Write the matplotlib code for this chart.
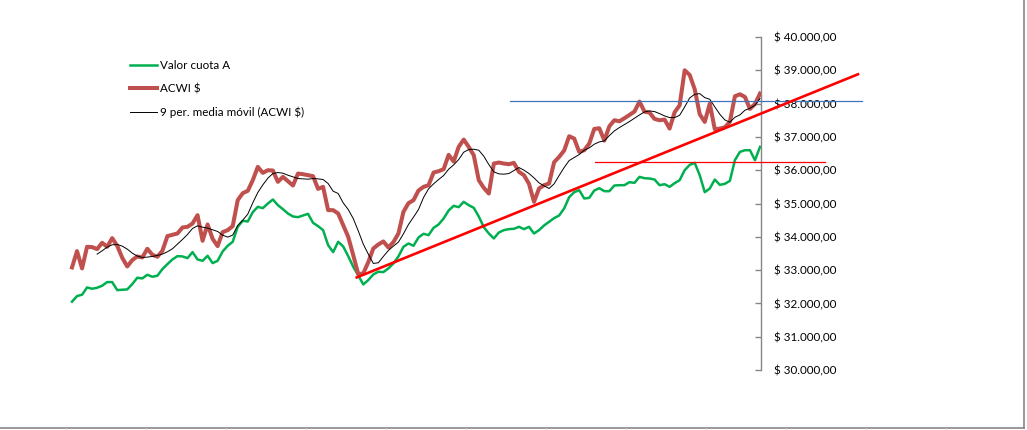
import numpy as np
import matplotlib
matplotlib.use("Agg")
import matplotlib.pyplot as plt
from matplotlib.lines import Line2D
from matplotlib.ticker import FuncFormatter

# Series (one value per period, equally spaced)
valor_cuota_a = [
    32050, 32220, 32260, 32480, 32440, 32470, 32530, 32640, 32640, 32400,
    32410, 32420, 32580, 32770, 32750, 32860, 32800, 32830, 33030, 33180,
    33320, 33420, 33410, 33360, 33540, 33320, 33280, 33430, 33210, 33280,
    33560, 33730, 33850, 34300, 34480, 34460, 34740, 34900, 34860, 35000,
    35120, 34950, 34830, 34700, 34610, 34590, 34640, 34690, 34420, 34320,
    34200, 33750, 33540, 33850, 33710, 33420, 33100, 32840, 32570, 32700,
    32870, 32950, 32940, 33050, 33200, 33410, 33700, 33800, 33730, 33980,
    34090, 34050, 34270, 34370, 34550, 34790, 34930, 34890, 35050, 34950,
    34870, 34610, 34290, 34100, 33950, 34130, 34200, 34230, 34240, 34300,
    34230, 34300, 34100, 34200, 34340, 34450, 34560, 34640, 34850, 35190,
    35340, 35400, 35150, 35170, 35390, 35460, 35370, 35370, 35540, 35550,
    35550, 35640, 35620, 35800, 35760, 35750, 35720, 35550, 35580, 35500,
    35610, 35700, 36000, 36160, 36220, 35850, 35340, 35450, 35720, 35560,
    35590, 35680, 36300, 36550, 36600, 36600, 36300, 36700,
]

acwi = [
    33080, 33570, 33050, 33700, 33690, 33630, 33820, 33700, 33960, 33730,
    33370, 33110, 33300, 33410, 33380, 33640, 33460, 33400, 33580, 34020,
    34060, 34100, 34280, 34300, 34400, 34650, 33880, 34370, 33940, 33720,
    34140, 34200, 34320, 35100, 35310, 35380, 35700, 36100, 35920, 36000,
    35990, 35650, 35800, 35670, 35540, 35900, 35880, 35850, 35820, 35440,
    35500, 34800, 34800, 34700, 34350, 34000, 33450, 32880, 32900, 33240,
    33650, 33770, 33860, 33680, 33840, 34100, 34750, 35010, 35100, 35390,
    35500, 35550, 35930, 35970, 36030, 36460, 36260, 36700, 36920, 36700,
    36450, 35700, 35470, 35300, 36200, 36230, 36200, 36180, 36220, 35950,
    35850, 35590, 35050, 35450, 35550, 35600, 36240, 36400, 36590, 37020,
    36950, 36550, 36600, 36800, 37240, 37260, 36890, 37320, 37500, 37470,
    37560, 37660, 37760, 38060, 37760, 37730, 37540, 37500, 37520, 37250,
    37740, 37950, 39000, 38860, 38430, 37680, 37450, 38000, 37230, 37250,
    37290, 37450, 38220, 38280, 38200, 37840, 37990, 38300,
]

# 9 per. media movil, as drawn (starts a few periods in)
media_movil = [np.nan] * 5 + [
    33480, 33580, 33690, 33760, 33770, 33720, 33630, 33510, 33420, 33380,
    33390, 33410, 33440, 33480, 33550, 33640, 33780, 33920, 34070, 34250,
    34330, 34290, 34260, 34210, 34160, 34050, 33990, 34050, 34340, 34500,
    34680, 35020, 35330, 35560, 35760, 35900, 35930, 35910, 35850, 35800,
    35750, 35740, 35730, 35750, 35740, 35720, 35600, 35370, 35300, 35020,
    34820, 34550, 34180, 33780, 33480, 33200, 33220, 33410, 33590, 33720,
    33840, 34090, 34370, 34590, 34820, 35180, 35440, 35590, 35720, 35840,
    36030, 36160, 36320, 36540, 36620, 36630, 36600, 36420, 36170, 35950,
    35890, 35880, 35900, 35990, 36080, 36000, 35900, 35770, 35620, 35530,
    35450, 35590, 35840, 36080, 36290, 36380, 36470, 36600, 36670, 36780,
    36850, 36880, 37040, 37180, 37280, 37370, 37460, 37560, 37660, 37750,
    37780, 37760, 37700, 37630, 37580, 37580, 37650, 37900, 38170, 38280,
    38300, 38180, 38130, 37900, 37680, 37510, 37440, 37590, 37660, 37800,
    37860, 37950, 38150,
]

# hand-drawn annotations (period index, value)
trend_x = [56.7, 156.5]
trend_y = [32780, 38880]
blue_level_x = [87.2, 157.3]
blue_level_y = 38090
red_level_x = [104.1, 149.9]
red_level_y = 36260

labels = ["Valor cuota A", "ACWI $", "9 per. media móvil (ACWI $)"]
yticks = np.arange(30000, 40001, 1000)

GREEN = "#00B050"
DARKRED = "#C0504D"
GRAY = "#868686"

plt.rcParams["font.family"] = ["Lato", "DejaVu Sans"]

fig = plt.figure(figsize=(10.27, 4.30), dpi=100)
fig.patch.set_facecolor("white")

n = len(acwi)
x = np.arange(n)
step = 688 / (n - 1)          # pixels per period
x_left = -72 / step
x_right = (761 - 72) / step

ax = fig.add_axes([0, 60 / 430, 761 / 1027, 333 / 430])
ax.set_xlim(x_left, x_right)
ax.set_ylim(30000, 40000)

ax.plot(x, valor_cuota_a, color=GREEN, lw=1.8, label=labels[0], zorder=2)
ax.plot(x, acwi, color=DARKRED, lw=2.9, label=labels[1], zorder=3,
        solid_joinstyle="round")
ax.plot(x, media_movil, color="black", lw=0.7, label=labels[2], zorder=4)

# annotation lines
ax.plot(blue_level_x, [blue_level_y] * 2, color="#3F75B8", lw=0.9,
        clip_on=False, zorder=5)
ax.plot(red_level_x, [red_level_y] * 2, color="#FF0000", lw=0.9,
        clip_on=False, zorder=5)
ax.plot(trend_x, trend_y, color="#FF0000", lw=1.9, clip_on=False, zorder=6)

for side in ["top", "left", "bottom"]:
    ax.spines[side].set_visible(False)
ax.spines["right"].set_color(GRAY)
ax.spines["right"].set_linewidth(1.0)
ax.set_xticks([])
ax.yaxis.tick_right()
ax.set_yticks(yticks)
ax.yaxis.set_major_formatter(
    FuncFormatter(lambda v, p: "$ " + f"{v:,.2f}".replace(",", "X")
                  .replace(".", ",").replace("X", ".")))
ax.tick_params(axis="y", direction="in", length=4, width=1, color=GRAY,
               pad=9, labelsize=8.4, labelcolor="black")
ax.patch.set_visible(False)

leg = ax.legend(loc="upper left", bbox_to_anchor=(130 / 1027, 1 - 60 / 430),
                bbox_transform=fig.transFigure, frameon=False, fontsize=8.4,
                handlelength=2.3, handletextpad=0.3, labelspacing=1.05,
                borderpad=0, borderaxespad=0)

# chart-area border (bottom and right) with sheet grid marks
fig.add_artist(Line2D([0, 1024 / 1027], [2.5 / 430, 2.5 / 430],
                      transform=fig.transFigure, color=GRAY, lw=1.2))
fig.add_artist(Line2D([1024 / 1027, 1024 / 1027], [2.5 / 430, 1],
                      transform=fig.transFigure, color=GRAY, lw=1.2))
for px in range(66, 1000, 80):
    fig.add_artist(Line2D([px / 1027, px / 1027], [0, 2.5 / 430],
                          transform=fig.transFigure, color="#D0D0D0", lw=0.8))

fig.savefig("out.png", dpi=100, facecolor="white")
